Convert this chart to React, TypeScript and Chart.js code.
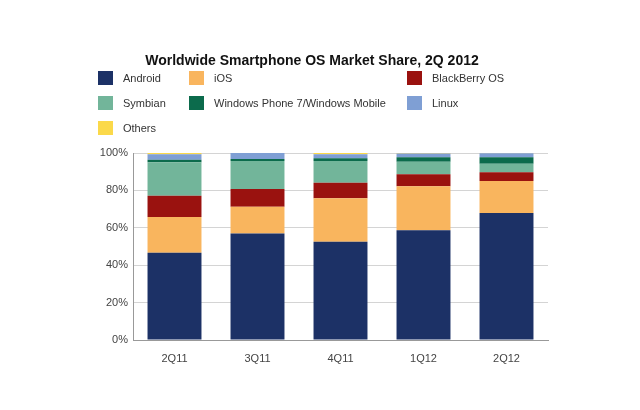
import React, { useEffect, useRef } from "react";
import { Chart, registerables } from "chart.js";
Chart.register(...registerables);

const categories = ["2Q11", "3Q11", "4Q11", "1Q12", "2Q12"];
const android = [46.7, 57.0, 52.6, 58.7, 67.9];
const ios = [19.1, 14.3, 23.2, 23.5, 17.1];
const blackberry = [11.4, 9.4, 8.3, 6.4, 4.7];
const symbian = [17.8, 15.0, 11.6, 6.7, 4.6];
const windowsPhone = [1.4, 1.1, 1.5, 2.4, 3.4];
const linux = [2.9, 3.2, 2.1, 2.0, 2.1];
const others = [0.7, 0.0, 0.7, 0.3, 0.2];
const yTicks = [0, 20, 40, 60, 80, 100];

const series = [
  { label: "Android", data: android, color: "#1c3166" },
  { label: "iOS", data: ios, color: "#f9b55e" },
  { label: "BlackBerry OS", data: blackberry, color: "#9a120f" },
  { label: "Symbian", data: symbian, color: "#72b59a" },
  { label: "Windows Phone 7/Windows Mobile", data: windowsPhone, color: "#0c6b4c" },
  { label: "Linux", data: linux, color: "#7f9fd4" },
  { label: "Others", data: others, color: "#fbd94a" },
];

const legendPos = [
  [98, 78], [189, 78], [407, 78],
  [98, 103], [189, 103], [407, 103],
  [98, 128],
];

export default function App() {
  const ref = useRef<HTMLCanvasElement>(null);
  useEffect(() => {
    const chart = new Chart(ref.current!, {
      type: "bar",
      data: {
        labels: categories,
        datasets: series.map((s) => ({
          label: s.label,
          data: s.data,
          backgroundColor: s.color,
          borderWidth: 0,
          categoryPercentage: 0.65,
          barPercentage: 1,
        })),
      },
      options: {
        responsive: false,
        animation: false,
        layout: { padding: { left: 93, right: 92, top: 153, bottom: 40 } },
        plugins: { legend: { display: false }, title: { display: false }, tooltip: { enabled: false } },
        scales: {
          x: {
            stacked: true,
            grid: { display: false },
            border: { color: "#999" },
            ticks: { color: "#444", font: { family: "Liberation Sans", size: 11 }, padding: 4 },
            afterFit: (s: any) => { s.height = 30; },
          },
          y: {
            stacked: true,
            min: 0,
            max: 100,
            afterBuildTicks: (s: any) => { s.ticks = yTicks.map((v) => ({ value: v })); },
            grid: { color: "#d4d4d4", drawTicks: false },
            border: { color: "#999" },
            ticks: { color: "#444", font: { family: "Liberation Sans", size: 11 }, padding: 5, callback: (v: any) => v + "%" },
            afterFit: (s: any) => { s.width = 40; },
          },
        },
      },
    });
    return () => chart.destroy();
  }, []);
  return (
    <div style={{ position: "absolute", left: 0, top: 0, width: 640, height: 410, background: "#fff", fontFamily: "Liberation Sans, Arial, sans-serif" }}>
      <canvas ref={ref} width={640} height={410} style={{ position: "absolute", left: 0, top: 0 }} />
      <div style={{ position: "absolute", left: 0, width: 624, top: 52, textAlign: "center", fontWeight: "bold", fontSize: 14, color: "#111" }}>
        Worldwide Smartphone OS Market Share, 2Q 2012
      </div>
      {series.map((s, i) => (
        <div key={s.label} style={{ position: "absolute", left: legendPos[i][0], top: legendPos[i][1] - 7, height: 14, display: "flex", alignItems: "center", whiteSpace: "nowrap" }}>
          <span style={{ display: "inline-block", width: 15, height: 14, background: s.color }} />
          <span style={{ marginLeft: 10, fontSize: 11, color: "#333" }}>{s.label}</span>
        </div>
      ))}
    </div>
  );
}
